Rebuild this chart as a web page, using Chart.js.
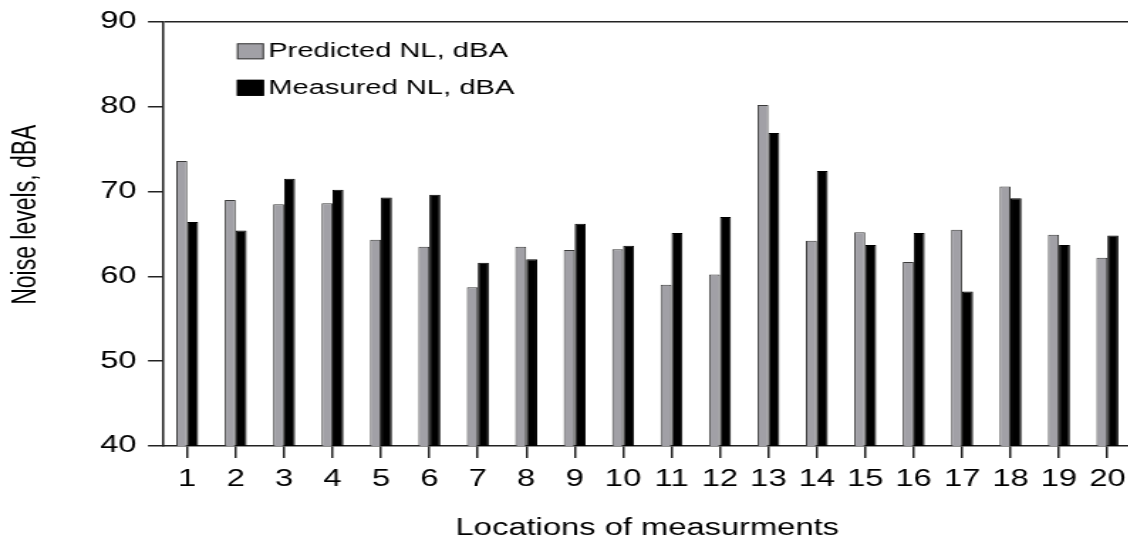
<!DOCTYPE html>
<html>
<head>
<meta charset="utf-8">
<title>Noise levels</title>
<script src="https://cdn.jsdelivr.net/npm/chart.js@4/dist/chart.umd.min.js"></script>
<style>
    html, body { margin: 0; padding: 0; background: #fff; overflow: hidden; width: 1128px; height: 545px; }
    canvas { display: block; }
</style>
</head>
<body>
<!-- the source figure is stretched sideways, so the canvas is drawn narrow and scaled up by css.
     it is also a bit wider than the window: the plot runs off the right edge in the original -->
<canvas id="noiseChart" width="800" height="545" style="width:1136.5px;height:545px"></canvas>
<script>
// ---- data ----
const locations = ['1', '2', '3', '4', '5', '6', '7', '8', '9', '10',
                   '11', '12', '13', '14', '15', '16', '17', '18', '19', '20'];
const predictedNL = [73.6, 69.0, 68.5, 68.6, 64.3, 63.5, 58.7, 63.5, 63.1, 63.2,
                     59.0, 60.2, 80.2, 64.2, 65.2, 61.7, 65.5, 70.6, 64.9, 62.2];
const measuredNL  = [66.4, 65.4, 71.5, 70.2, 69.3, 69.6, 61.6, 62.0, 66.2, 63.6,
                     65.1, 67.0, 76.9, 72.4, 63.7, 65.1, 58.2, 69.2, 63.7, 64.8];
const yTicks = [40, 50, 60, 70, 80, 90];

const FONT_FAMILY = '"Liberation Sans", Arial, Helvetica, sans-serif';
const AXIS_COLOR  = '#222';

// legend sits inside the plot, top-left, like the original
const insideLegend = {
    id: 'insideLegend',
    afterDraw(chart) {
        const { ctx, chartArea } = chart;
        ctx.save();
        ctx.font = '20.5px ' + FONT_FAMILY;
        ctx.textBaseline = 'middle';
        ctx.textAlign = 'left';
        chart.data.datasets.forEach((ds, i) => {
            const x = chartArea.left + 52;
            const y = chartArea.top + 21.5 + i * 36.5;
            ctx.fillStyle = ds.backgroundColor;
            ctx.fillRect(x, y, 19, 16);
            ctx.strokeStyle = ds.borderColor;
            ctx.lineWidth = 1;
            ctx.strokeRect(x + 0.5, y + 0.5, 18, 15);
            ctx.fillStyle = '#000';
            ctx.fillText(ds.label, x + 22, y + 8.5);
        });
        ctx.restore();
    },
};

const canvas = document.getElementById('noiseChart');

new Chart(canvas, {
    type: 'bar',
    data: {
        labels: locations,
        datasets: [
            {
                label: 'Predicted NL, dBA',
                data: predictedNL,
                backgroundColor: '#a1a0a6',
                borderColor: '#3a3a3a',
                borderWidth: 1,
                barPercentage: 1.0,
                categoryPercentage: 0.453,
            },
            {
                label: 'Measured NL, dBA',
                data: measuredNL,
                backgroundColor: '#000',
                borderColor: '#000',
                borderWidth: 1,
                barPercentage: 1.0,
                categoryPercentage: 0.453,
            },
        ],
    },
    options: {
        responsive: false,
        devicePixelRatio: 1,
        animation: false,
        layout: { padding: { top: 18, right: 1.6, bottom: 0, left: 0 } },
        plugins: {
            legend:  { display: false },
            tooltip: { enabled: false },
        },
        scales: {
            x: {
                grid: {
                    offset: false,
                    drawOnChartArea: false,
                    tickLength: 12,
                    color: AXIS_COLOR,
                    lineWidth: 1.5,
                },
                border: { color: AXIS_COLOR, width: 1.5 },
                ticks: {
                    color: '#000',
                    padding: 8,
                    maxRotation: 0,
                    autoSkip: false,
                    font: { size: 23, family: FONT_FAMILY },
                },
                title: {
                    display: true,
                    text: 'Locations of measurments',
                    color: '#000',
                    padding: { top: 0, bottom: 3 },
                    font: { size: 23, family: FONT_FAMILY },
                },
                afterFit(scale) { scale.height = 99; },
            },
            y: {
                min: yTicks[0],
                max: yTicks[yTicks.length - 1],
                afterBuildTicks(scale) { scale.ticks = yTicks.map(v => ({ value: v })); },
                grid: {
                    // only the 90 line runs across, acting as the frame top
                    color: ctx => (ctx.tick && ctx.tick.value === 90) ? AXIS_COLOR : 'rgba(0,0,0,0)',
                    tickColor: AXIS_COLOR,
                    tickLength: 10.6,
                    lineWidth: 1.5,
                },
                border: { color: AXIS_COLOR, width: 1.5 },
                ticks: {
                    color: '#000',
                    padding: 8,
                    font: { size: 23, family: FONT_FAMILY },
                },
                title: {
                    display: true,
                    // leading spaces nudge the label up a little, as in the original
                    text: '      Noise levels, dBA',
                    color: '#000',
                    padding: { top: 5, bottom: 0 },
                    font: { size: 23, family: FONT_FAMILY },
                },
                afterFit(scale) { scale.width = 114.7; },
            },
        },
    },
    plugins: [insideLegend],
});
</script>
</body>
</html>
